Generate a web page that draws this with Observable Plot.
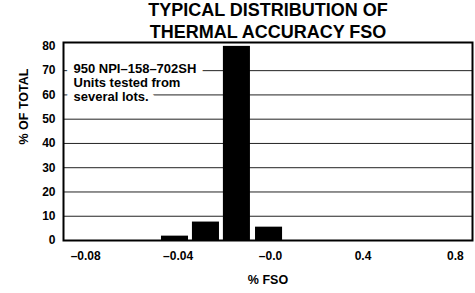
<!DOCTYPE html>
<html><head><meta charset="utf-8">
<script src="https://cdn.jsdelivr.net/npm/d3@7"></script>
<script src="https://cdn.jsdelivr.net/npm/@observablehq/plot@0.6"></script>
<style>
html,body{margin:0;padding:0;background:#fff;}
svg{font-family:"Liberation Sans",Arial,sans-serif;font-weight:bold;}
</style></head><body><div id="chart"></div>
<script>
const titleLines = ["TYPICAL DISTRIBUTION OF", "THERMAL ACCURACY FSO"];
const binLow = [-0.0472, -0.0338, -0.0204, -0.0065];
const binHigh = [-0.0355, -0.0221, -0.0087, 0.0052];
const percentOfTotal = [1.8, 7.6, 80, 5.5];
const xTickValues = [-0.08, -0.04, 0, 0.04, 0.08];
const xTickLabels = ["–0.08", "–0.04", "–0.0", "0.4", "0.8"];
const yTickValues = [0, 10, 20, 30, 40, 50, 60, 70, 80];
const gridValues = [10, 20, 30, 40, 50, 60, 70];
const noteLines = ["950 NPI–158–702SH", "Units tested from", "several lots."];
const xLabel = "% FSO";
const yLabel = "% OF TOTAL";

const bins = binLow.map((lo, i) => ({lo, hi: binHigh[i], v: percentOfTotal[i]}));
const fmtX = d => xTickLabels[xTickValues.findIndex(v => Math.abs(v - d) < 1e-9)];
const noteOpts = {frameAnchor: "top-left", dx: 10, dy: 20, textAnchor: "start", lineAnchor: "top",
  fontSize: 13, fontWeight: "bold", lineHeight: 1.1};

const chart = Plot.plot({
  width: 475, height: 293,
  marginLeft: 63, marginRight: 3, marginTop: 42, marginBottom: 53,
  style: {fontFamily: "'Liberation Sans', Arial, sans-serif", fontWeight: "bold", color: "black", background: "white"},
  x: {domain: [-0.0896, 0.0874], label: null},
  y: {domain: [0, 81.6], label: null},
  marks: [
    Plot.ruleY(gridValues, {stroke: "#222", strokeWidth: 1}),
    Plot.text([noteLines.join("\n")], {...noteOpts, fill: "white", stroke: "white", strokeWidth: 14, strokeLinejoin: "round"}),
    Plot.text([noteLines.join("\n")], {...noteOpts, fill: "black"}),
    Plot.rectY(bins, {x1: "lo", x2: "hi", y: "v", fill: "black"}),
    Plot.frame({stroke: "black", strokeWidth: 2}),
    Plot.axisY(yTickValues, {tickSize: 0, tickPadding: 8, fontSize: 12, fontWeight: "bold", label: null}),
    Plot.axisX(xTickValues, {tickSize: 0, tickPadding: 11, fontSize: 12, fontWeight: "bold", tickFormat: fmtX, label: null}),
    Plot.text([titleLines.join("\n")], {frameAnchor: "top", dy: -5, lineAnchor: "bottom", fontSize: 18, fontWeight: "bold", lineHeight: 1.17}),
    Plot.text([yLabel], {frameAnchor: "left", dx: -40, dy: 3, rotate: -90, fontSize: 12.5, fontWeight: "bold"}),
    Plot.text([xLabel], {frameAnchor: "bottom", dy: 43, fontSize: 12.5, fontWeight: "bold"})
  ]
});
document.getElementById("chart").appendChild(chart);
</script></body></html>
